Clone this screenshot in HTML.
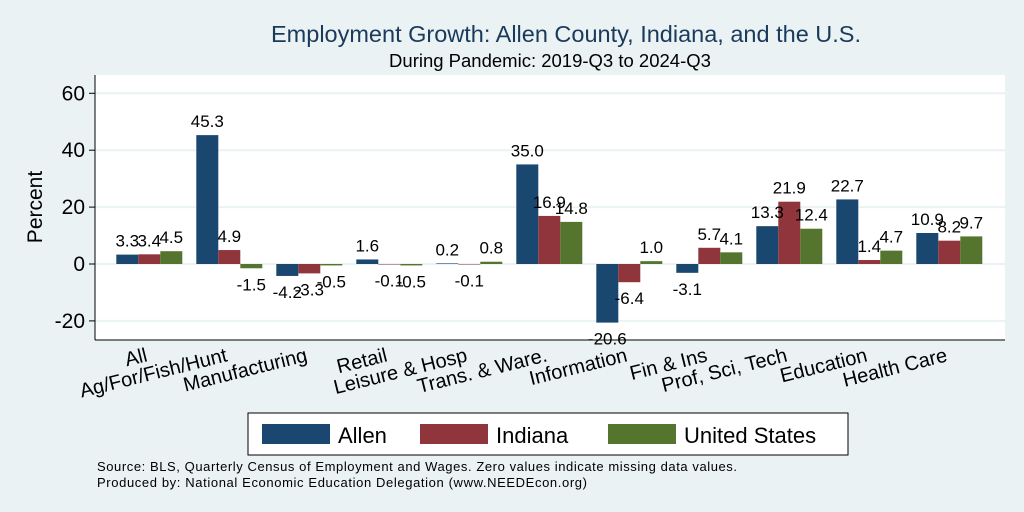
<!DOCTYPE html>
<html><head><meta charset="utf-8"><style>
body{margin:0;background:#eaf2f3;}
svg{display:block;font-family:"Liberation Sans",Arial,sans-serif;}
</style></head><body>
<svg id="chart" width="1024" height="512" viewBox="0 0 1024 512">
<rect x="0" y="0" width="1024" height="512" fill="#eaf2f3"/>
<text x="566" y="42" text-anchor="middle" font-size="23.5" fill="#1a3a5c">Employment Growth: Allen County, Indiana, and the U.S.</text>
<text x="550" y="67" text-anchor="middle" font-size="18.5" fill="#000">During Pandemic: 2019-Q3 to 2024-Q3</text>
<rect x="95" y="75" width="910" height="265" fill="#fff"/>
<g id="grid"></g>
<g id="bars"></g>
<g id="labels"></g>
<line x1="95" y1="75" x2="95" y2="340" stroke="#000" stroke-width="1"/>
<line x1="95" y1="340" x2="1005" y2="340" stroke="#000" stroke-width="1"/>
<text transform="translate(42,207) rotate(-90)" text-anchor="middle" font-size="21">Percent</text>
<g>
<rect x="248" y="413" width="600" height="42" fill="#fff" stroke="#000" stroke-width="1"/>
<rect x="262" y="424" width="68" height="20" fill="#1a476f"/>
<text x="338" y="443" font-size="22">Allen</text>
<rect x="420" y="424" width="68" height="20" fill="#90353b"/>
<text x="496" y="443" font-size="22">Indiana</text>
<rect x="608" y="424" width="68" height="20" fill="#55752f"/>
<text x="684" y="443" font-size="22">United States</text>
</g>
<text x="97" y="471" font-size="13" textLength="640">Source: BLS, Quarterly Census of Employment and Wages. Zero values indicate missing data values.</text>
<text x="97" y="487" font-size="13" textLength="490">Produced by: National Economic Education Delegation (www.NEEDEcon.org)</text>
</svg>
<script>
const categories = ["All","Ag/For/Fish/Hunt","Manufacturing","Retail","Leisure & Hosp","Trans. & Ware.","Information","Fin & Ins","Prof, Sci, Tech","Education","Health Care"];
const allen = [3.3,45.3,-4.2,1.6,0.2,35.0,-20.6,-3.1,13.3,22.7,10.9];
const indiana = [3.4,4.9,-3.3,-0.1,-0.1,16.9,-6.4,5.7,21.9,1.4,8.2];
const us = [4.5,-1.5,-0.5,-0.5,0.8,14.8,1.0,4.1,12.4,4.7,9.7];
const yTicks = [-20,0,20,40,60];
const seriesNames = ["allen","indiana","us"];
const colors = ["#1a476f","#90353b","#55752f"];

const NS = "http://www.w3.org/2000/svg";
function y(v){ return 264 - v*2.845; }
function groupCenter(i){ return 149.3 + i*80; }
const barW = 22;
function mk(tag, attrs, parent){
  const e = document.createElementNS(NS, tag);
  for (const k in attrs) e.setAttribute(k, attrs[k]);
  parent.appendChild(e);
  return e;
}
const grid = document.getElementById('grid');
const bars = document.getElementById('bars');
const labels = document.getElementById('labels');
const svg = document.getElementById('chart');

yTicks.forEach(t => {
  const g = mk('line', {x1:95, x2:1005, y1:y(t), y2:y(t), stroke:'#eaf2f3', 'stroke-width':2}, grid);
  
  
  const tk = mk('line', {x1:89, x2:95, y1:y(t), y2:y(t), stroke:'#000'}, grid);
  
  
  const tl = mk('text', {x:85, y:y(t)+7, 'text-anchor':'end', 'font-size':21}, grid);
  tl.textContent = String(t);
  
  
});

const data = [allen, indiana, us];
categories.forEach((c, i) => {
  const cx = groupCenter(i);
  data.forEach((arr, s) => {
    const v = arr[i];
    const x0 = cx - 33 + s*barW;
    const top = Math.min(y(v), y(0));
    const h = Math.abs(y(v) - y(0));
    const r = mk('rect', {x:x0, y:top, width:barW, height:Math.max(h,0.5), fill:colors[s]}, bars);
    
    
    const ty = v >= 0 ? y(v) - 8 : y(v) + 22;
    const t = mk('text', {x:x0 + barW/2, y:ty, 'text-anchor':'middle', 'font-size':17}, labels);
    t.textContent = v.toFixed(1);
    
    
  });
  const tx = cx - 1, tyy = 361;
  const lab = mk('text', {x:tx, y:tyy, 'text-anchor':'end', 'font-size':20, transform:'rotate(-14 '+tx+' '+tyy+')'}, svg);
  lab.textContent = c;
  
  
});
</script>
</body></html>
